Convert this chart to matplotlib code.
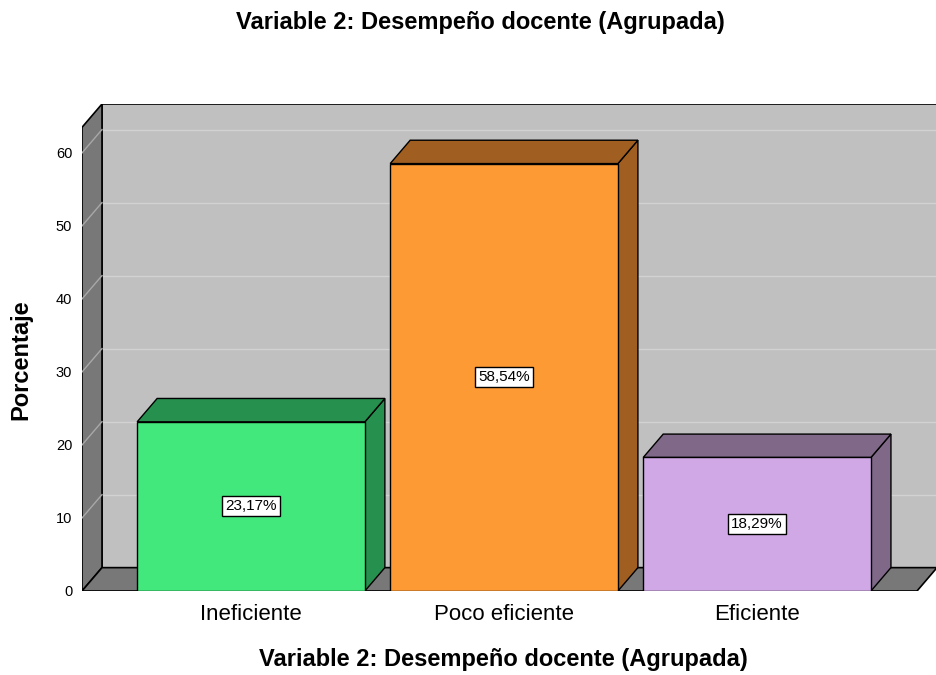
import numpy as np
import matplotlib
matplotlib.use('Agg')
import matplotlib.pyplot as plt
from matplotlib.patches import Polygon

plt.rcParams['font.family'] = ['Liberation Sans', 'DejaVu Sans']

# data
titulo = 'Variable 2: Desempeño docente (Agrupada)'
categorias = ['Ineficiente', 'Poco eficiente', 'Eficiente']
porcentajes = [23.17, 58.54, 18.29]
etiquetas = ['23,17%', '58,54%', '18,29%']
yticks = [0, 10, 20, 30, 40, 50, 60]

colores_frente = ['#42e87c', '#fd9a34', '#d0a8e5']
colores_lado = ['#26904f', '#a05f20', '#806888']

# 3d look
dx, dy = 0.079, 3.2
ancho = 0.9
x0, x1 = -0.668, 2.711
ytop = 66.7

fig = plt.figure(figsize=(9.37, 6.75), dpi=100)
ax = fig.add_axes([82/937, 84/675, 1 - 82/937, (591-104)/675])
ax.set_xlim(x0, x1)
ax.set_ylim(0, ytop)
for s in ax.spines.values():
    s.set_visible(False)

# walls
ax.add_patch(Polygon([(x0 + dx, dy), (x1, dy), (x1, ytop), (x0 + dx, ytop)],
                     closed=True, fc='#c0c0c0', ec='black', lw=1.2, zorder=1))
ax.add_patch(Polygon([(x0, 0), (x0 + dx, dy), (x0 + dx, ytop), (x0, ytop - dy)],
                     closed=True, fc='#787878', ec='black', lw=1.2, zorder=2))
ax.add_patch(Polygon([(x0, 0), (x0 + dx, dy), (x1, dy), (x1 - dx, 0)],
                     closed=True, fc='#787878', ec='black', lw=1.2, zorder=2))
for t in yticks[1:]:
    ax.plot([x0 + dx, x1], [t + dy, t + dy], color='#d2d2d2', lw=1, zorder=1.5)
    ax.plot([x0, x0 + dx], [t, t + dy], color='#a8a8a8', lw=1, zorder=2.5)

# bars
for i, v in enumerate(porcentajes):
    xl, xr = i - ancho/2, i + ancho/2
    ax.add_patch(Polygon([(xr, 0), (xr + dx, dy), (xr + dx, v + dy), (xr, v)],
                         closed=True, fc=colores_lado[i], ec='black', lw=1, zorder=3))
    ax.add_patch(Polygon([(xl, v), (xl + dx, v + dy), (xr + dx, v + dy), (xr, v)],
                         closed=True, fc=colores_lado[i], ec='black', lw=1, zorder=3))
    ax.add_patch(Polygon([(xl, 0), (xr, 0), (xr, v), (xl, v)],
                         closed=True, fc=colores_frente[i], ec='black', lw=1, zorder=4))
    ax.text(i, v/2, etiquetas[i], ha='center', va='center', fontsize=11, zorder=5,
            bbox=dict(boxstyle='square,pad=0.2', fc='white', ec='black', lw=1))

ax.set_yticks(yticks)
ax.set_yticklabels([str(t) for t in yticks], fontsize=10.5)
ax.set_xticks(range(len(categorias)))
ax.set_xticklabels(categorias, fontsize=16)
ax.tick_params(axis='y', length=0, pad=7)
ax.tick_params(axis='x', length=0, pad=9)

ax.set_ylabel('Porcentaje', fontsize=17, fontweight='bold')
ax.yaxis.set_label_coords(-0.0585, 0.476)
ax.set_xlabel(titulo, fontsize=17, fontweight='bold', labelpad=17)
ax.xaxis.label.set_x(0.4924)
fig.text(480/937, 1 - 23/675, titulo, ha='center', va='center',
         fontsize=17, fontweight='bold')

fig.savefig('out.png', dpi=100)
